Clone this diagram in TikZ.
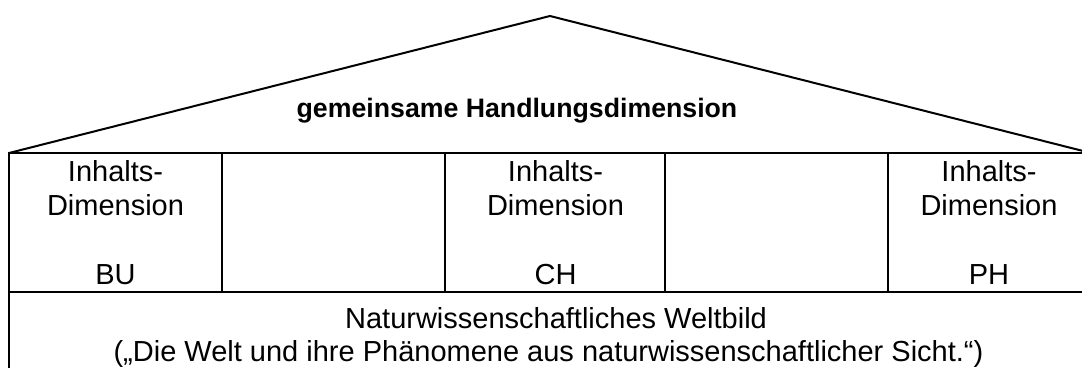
\documentclass[tikz,border=0pt]{standalone}
\usepackage{fontspec}
\setmainfont{Liberation Sans}
\begin{document}
\begin{tikzpicture}[x=1pt,y=-1pt,line width=2pt,line join=miter,
  lbl/.style={anchor=base,inner sep=0pt,font=\fontsize{29}{34}\selectfont},
  roofname/.style={anchor=base,inner sep=0pt,font=\fontsize{26.7}{32}\selectfont\bfseries}]
\useasboundingbox (0,0) rectangle (1082,367);
\clip (0,0) rectangle (1082,367);
% corner points of the house
\coordinate (apex) at (550,16);
\coordinate (eaveL) at (9,153);
\coordinate (eaveR) at (1091,153);
\coordinate (floorL) at (9,292);
\coordinate (floorR) at (1091,292);
\coordinate (baseL) at (9,380);
\coordinate (baseR) at (1091,380);
% roof
\draw (eaveL) -- (apex) -- (eaveR);
% outer walls and storey lines
\draw (baseL) -- (eaveL) -- (eaveR) -- (baseR);
\draw (floorL) -- (floorR);
% pillars of the upper storey
\foreach \x in {221.5,445,665,888}
  \draw (\x,153) -- (\x,292);
% roof label
\node[roofname] (roof) at (517,117) {gemeinsame Handlungsdimension};
% content dimensions
\foreach \x/\s/\n in {115.5/BU/bu,555.5/CH/ch,989/PH/ph}{
  \node[lbl] (\n a) at (\x,181.5) {Inhalts-};
  \node[lbl] (\n b) at (\x,215) {Dimension};
  \node[lbl] (\n c) at (\x,284) {\s};
}
% foundation
\node[lbl] (base1) at (556,328) {Naturwissenschaftliches Weltbild};
\node[lbl] (base2) at (548.5,361) {(„Die Welt und ihre Phänomene aus naturwissenschaftlicher Sicht.“)};
\end{tikzpicture}
\end{document}
